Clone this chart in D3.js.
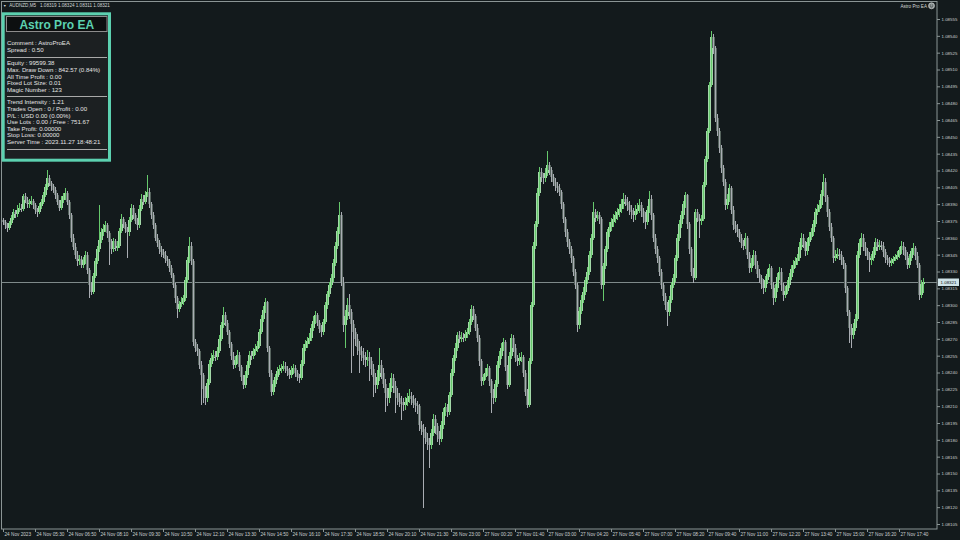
<!DOCTYPE html>
<html><head><meta charset="utf-8">
<script src="https://cdn.jsdelivr.net/npm/d3@7"></script>
<style>html,body{margin:0;padding:0;background:#131a1c;}svg{display:block;}</style>
</head><body>
<svg id="c" width="960" height="540"></svg>
<script>
const symbolName = "AUDNZD,M5";
const headerQuote = ["1.08319", "1.08324", "1.08311", "1.08321"];
const expertName = "Astro Pro EA";
const currentPrice = 1.08321;
const barsPerLabel = 16;
const timeLabels = ["24 Nov 2023","24 Nov 05:30","24 Nov 06:50","24 Nov 08:10","24 Nov 09:30","24 Nov 10:50","24 Nov 12:10","24 Nov 13:30","24 Nov 14:50","24 Nov 16:10","24 Nov 17:30","24 Nov 18:50","24 Nov 20:10","24 Nov 21:30","26 Nov 23:00","27 Nov 00:20","27 Nov 01:40","27 Nov 03:00","27 Nov 04:20","27 Nov 05:40","27 Nov 07:00","27 Nov 08:20","27 Nov 09:40","27 Nov 11:00","27 Nov 12:20","27 Nov 13:40","27 Nov 15:00","27 Nov 16:20","27 Nov 17:40"];
const priceTicks = [1.08105,1.08120,1.08135,1.08150,1.08165,1.08180,1.08195,1.08210,1.08225,1.08240,1.08255,1.08270,1.08285,1.08300,1.08315,1.08330,1.08345,1.08360,1.08375,1.08390,1.08405,1.08420,1.08435,1.08450,1.08465,1.08480,1.08495,1.08510,1.08525,1.08540,1.08555];

const panelTitle = "Astro Pro EA";
const panelGroups = [
  ["Comment : AstroProEA", "Spread : 0.50"],
  ["Equity : 99599.38", "Max. Draw Down : 842.57 (0.84%)", "All Time Profit : 0.00", "Fixed Lot Size: 0.01", "Magic Number : 123"],
  ["Trend Intensity : 1.21", "Trades Open : 0 / Profit : 0.00", "P/L : USD 0.00 (0.00%)", "Use Lots : 0.00 / Free : 751.67", "Take Profit: 0.00000", "Stop Loss: 0.00000", "Server Time : 2023.11.27 18:48:21"]
];

const opens = [
1.08376,1.08374,1.08371,1.08369,1.08373,1.08378,1.08383,1.08381,1.08385,1.08387,
1.08386,1.08397,1.08394,1.08390,1.08391,1.08393,1.08389,1.08385,1.08383,1.08388,
1.08392,1.08398,1.08405,1.08413,1.08409,1.08406,1.08403,1.08398,1.08392,1.08387,
1.08394,1.08397,1.08400,1.08392,1.08380,1.08360,1.08352,1.08345,1.08339,1.08341,
1.08336,1.08340,1.08345,1.08331,1.08318,1.08312,1.08326,1.08339,1.08350,1.08358,
1.08365,1.08368,1.08371,1.08364,1.08356,1.08350,1.08357,1.08351,1.08353,1.08366,
1.08377,1.08372,1.08368,1.08365,1.08376,1.08387,1.08380,1.08375,1.08371,1.08386,
1.08395,1.08392,1.08398,1.08401,1.08390,1.08380,1.08371,1.08360,1.08355,1.08350,
1.08347,1.08345,1.08341,1.08339,1.08333,1.08327,1.08318,1.08306,1.08297,1.08301,
1.08303,1.08306,1.08322,1.08340,1.08353,1.08339,1.08267,1.08262,1.08259,1.08247,
1.08238,1.08225,1.08217,1.08231,1.08248,1.08253,1.08256,1.08254,1.08259,1.08270,
1.08282,1.08291,1.08284,1.08276,1.08265,1.08255,1.08247,1.08251,1.08256,1.08245,
1.08236,1.08229,1.08238,1.08247,1.08256,1.08255,1.08259,1.08261,1.08264,1.08276,
1.08288,1.08296,1.08303,1.08262,1.08240,1.08223,1.08230,1.08236,1.08241,1.08243,
1.08244,1.08246,1.08243,1.08241,1.08238,1.08242,1.08244,1.08240,1.08236,1.08235,
1.08248,1.08262,1.08265,1.08268,1.08271,1.08280,1.08286,1.08291,1.08284,1.08279,
1.08276,1.08285,1.08300,1.08310,1.08318,1.08324,1.08338,1.08353,1.08366,1.08380,
1.08321,1.08282,1.08290,1.08300,1.08294,1.08283,1.08276,1.08270,1.08263,1.08259,
1.08256,1.08253,1.08251,1.08254,1.08250,1.08243,1.08236,1.08229,1.08236,1.08247,
1.08240,1.08230,1.08222,1.08217,1.08226,1.08235,1.08228,1.08222,1.08217,1.08214,
1.08212,1.08211,1.08214,1.08217,1.08219,1.08216,1.08213,1.08211,1.08210,1.08193,
1.08190,1.08187,1.08182,1.08178,1.08175,1.08186,1.08199,1.08192,1.08184,1.08181,
1.08193,1.08205,1.08209,1.08205,1.08220,1.08240,1.08253,1.08262,1.08273,1.08270,
1.08272,1.08271,1.08274,1.08276,1.08285,1.08297,1.08290,1.08280,1.08271,1.08250,
1.08232,1.08236,1.08240,1.08244,1.08232,1.08222,1.08217,1.08230,1.08247,1.08255,
1.08262,1.08267,1.08245,1.08229,1.08255,1.08271,1.08262,1.08253,1.08250,1.08253,
1.08254,1.08240,1.08223,1.08211,1.08250,1.08300,1.08353,1.08372,1.08400,1.08419,
1.08414,1.08413,1.08418,1.08425,1.08420,1.08414,1.08410,1.08406,1.08404,1.08401,
1.08390,1.08377,1.08365,1.08356,1.08350,1.08342,1.08330,1.08318,1.08282,1.08295,
1.08305,1.08312,1.08322,1.08330,1.08345,1.08360,1.08383,1.08378,1.08380,1.08377,
1.08318,1.08335,1.08350,1.08365,1.08370,1.08374,1.08377,1.08380,1.08383,1.08386,
1.08390,1.08395,1.08392,1.08389,1.08385,1.08383,1.08380,1.08384,1.08386,1.08389,
1.08384,1.08379,1.08374,1.08385,1.08395,1.08380,1.08360,1.08350,1.08342,1.08330,
1.08318,1.08308,1.08300,1.08294,1.08305,1.08318,1.08324,1.08342,1.08360,1.08372,
1.08380,1.08390,1.08398,1.08372,1.08350,1.08330,1.08324,1.08383,1.08378,1.08375,
1.08377,1.08407,1.08430,1.08455,1.08496,1.08539,1.08529,1.08467,1.08455,1.08440,
1.08422,1.08410,1.08389,1.08395,1.08404,1.08385,1.08371,1.08368,1.08365,1.08360,
1.08355,1.08353,1.08360,1.08345,1.08333,1.08338,1.08345,1.08336,1.08328,1.08324,
1.08319,1.08315,1.08322,1.08328,1.08333,1.08318,1.08306,1.08315,1.08325,1.08330,
1.08318,1.08309,1.08313,1.08318,1.08325,1.08332,1.08336,1.08339,1.08342,1.08352,
1.08360,1.08354,1.08348,1.08356,1.08361,1.08365,1.08372,1.08383,1.08386,1.08389,
1.08399,1.08410,1.08396,1.08383,1.08370,1.08360,1.08342,1.08344,1.08346,1.08345,
1.08340,1.08336,1.08315,1.08294,1.08280,1.08273,1.08280,1.08288,1.08345,1.08355,
1.08360,1.08352,1.08348,1.08344,1.08340,1.08342,1.08348,1.08356,1.08352,1.08354,
1.08353,1.08347,1.08342,1.08340,1.08338,1.08339,1.08341,1.08343,1.08345,1.08349,
1.08353,1.08349,1.08344,1.08336,1.08342,1.08348,1.08351,1.08344,1.08336,1.08309,
1.08319];

const highs = [
1.08378,1.08376,1.08373,1.08375,1.08380,1.08386,1.08385,1.08389,1.08391,1.08390,
1.08399,1.08400,1.08396,1.08395,1.08397,1.08395,1.08391,1.08387,1.08391,1.08395,
1.08401,1.08408,1.08420,1.08416,1.08411,1.08408,1.08405,1.08400,1.08394,1.08397,
1.08400,1.08404,1.08402,1.08394,1.08382,1.08363,1.08355,1.08348,1.08345,1.08344,
1.08343,1.08348,1.08347,1.08333,1.08321,1.08329,1.08342,1.08353,1.08389,1.08369,
1.08372,1.08375,1.08373,1.08366,1.08359,1.08360,1.08359,1.08357,1.08369,1.08381,
1.08379,1.08374,1.08370,1.08379,1.08390,1.08389,1.08382,1.08378,1.08389,1.08399,
1.08398,1.08402,1.08416,1.08404,1.08392,1.08383,1.08373,1.08363,1.08358,1.08353,
1.08350,1.08348,1.08344,1.08341,1.08336,1.08329,1.08320,1.08308,1.08304,1.08307,
1.08309,1.08325,1.08343,1.08361,1.08356,1.08341,1.08270,1.08265,1.08261,1.08250,
1.08240,1.08228,1.08234,1.08251,1.08257,1.08260,1.08259,1.08263,1.08273,1.08285,
1.08298,1.08294,1.08287,1.08278,1.08267,1.08258,1.08255,1.08260,1.08258,1.08247,
1.08238,1.08241,1.08250,1.08259,1.08259,1.08262,1.08265,1.08268,1.08279,1.08291,
1.08299,1.08306,1.08304,1.08264,1.08242,1.08233,1.08239,1.08245,1.08247,1.08248,
1.08250,1.08249,1.08246,1.08244,1.08246,1.08248,1.08247,1.08242,1.08239,1.08251,
1.08265,1.08269,1.08272,1.08275,1.08283,1.08290,1.08295,1.08293,1.08287,1.08282,
1.08288,1.08303,1.08313,1.08321,1.08328,1.08341,1.08356,1.08370,1.08392,1.08383,
1.08325,1.08296,1.08306,1.08310,1.08297,1.08287,1.08280,1.08274,1.08268,1.08264,
1.08262,1.08258,1.08260,1.08258,1.08254,1.08248,1.08240,1.08242,1.08262,1.08251,
1.08244,1.08234,1.08226,1.08231,1.08240,1.08239,1.08232,1.08226,1.08222,1.08219,
1.08217,1.08218,1.08222,1.08225,1.08223,1.08220,1.08217,1.08215,1.08212,1.08197,
1.08194,1.08191,1.08186,1.08182,1.08190,1.08203,1.08202,1.08195,1.08188,1.08197,
1.08208,1.08213,1.08212,1.08223,1.08243,1.08256,1.08266,1.08276,1.08277,1.08276,
1.08275,1.08278,1.08280,1.08288,1.08300,1.08299,1.08292,1.08283,1.08273,1.08252,
1.08239,1.08244,1.08248,1.08246,1.08234,1.08225,1.08233,1.08250,1.08259,1.08266,
1.08271,1.08269,1.08247,1.08258,1.08274,1.08273,1.08265,1.08256,1.08257,1.08258,
1.08256,1.08242,1.08225,1.08253,1.08303,1.08356,1.08375,1.08404,1.08423,1.08422,
1.08418,1.08422,1.08437,1.08428,1.08423,1.08417,1.08413,1.08410,1.08408,1.08403,
1.08392,1.08379,1.08368,1.08359,1.08353,1.08344,1.08332,1.08320,1.08298,1.08309,
1.08316,1.08325,1.08334,1.08348,1.08363,1.08392,1.08386,1.08384,1.08383,1.08379,
1.08338,1.08353,1.08368,1.08374,1.08378,1.08381,1.08384,1.08387,1.08390,1.08395,
1.08400,1.08398,1.08396,1.08393,1.08389,1.08387,1.08389,1.08391,1.08395,1.08392,
1.08387,1.08383,1.08388,1.08402,1.08398,1.08382,1.08363,1.08353,1.08344,1.08332,
1.08320,1.08311,1.08303,1.08308,1.08321,1.08328,1.08345,1.08363,1.08376,1.08384,
1.08393,1.08401,1.08399,1.08374,1.08352,1.08333,1.08386,1.08386,1.08381,1.08380,
1.08410,1.08433,1.08458,1.08499,1.08544,1.08542,1.08531,1.08470,1.08458,1.08443,
1.08425,1.08412,1.08399,1.08408,1.08406,1.08388,1.08375,1.08372,1.08368,1.08363,
1.08358,1.08364,1.08362,1.08347,1.08342,1.08349,1.08348,1.08339,1.08332,1.08327,
1.08323,1.08326,1.08332,1.08337,1.08335,1.08321,1.08319,1.08329,1.08334,1.08333,
1.08320,1.08317,1.08322,1.08329,1.08336,1.08340,1.08343,1.08346,1.08356,1.08364,
1.08363,1.08357,1.08360,1.08365,1.08369,1.08376,1.08387,1.08390,1.08394,1.08403,
1.08417,1.08413,1.08398,1.08386,1.08373,1.08362,1.08349,1.08351,1.08350,1.08348,
1.08343,1.08338,1.08317,1.08296,1.08283,1.08284,1.08292,1.08348,1.08359,1.08364,
1.08363,1.08356,1.08351,1.08347,1.08346,1.08352,1.08360,1.08359,1.08358,1.08357,
1.08356,1.08350,1.08345,1.08343,1.08342,1.08344,1.08346,1.08348,1.08352,1.08357,
1.08356,1.08352,1.08347,1.08346,1.08351,1.08355,1.08353,1.08347,1.08338,1.08322,
1.08324];

const lows = [
1.08371,1.08368,1.08365,1.08367,1.08371,1.08376,1.08378,1.08379,1.08383,1.08383,
1.08384,1.08391,1.08387,1.08387,1.08389,1.08386,1.08381,1.08379,1.08381,1.08386,
1.08390,1.08396,1.08403,1.08406,1.08402,1.08400,1.08395,1.08389,1.08384,1.08385,
1.08391,1.08394,1.08389,1.08377,1.08356,1.08349,1.08341,1.08335,1.08336,1.08333,
1.08333,1.08337,1.08328,1.08306,1.08309,1.08310,1.08324,1.08337,1.08347,1.08355,
1.08362,1.08365,1.08360,1.08336,1.08346,1.08347,1.08348,1.08348,1.08351,1.08364,
1.08369,1.08364,1.08342,1.08362,1.08374,1.08377,1.08372,1.08367,1.08369,1.08384,
1.08389,1.08390,1.08396,1.08387,1.08377,1.08368,1.08357,1.08352,1.08346,1.08343,
1.08342,1.08338,1.08335,1.08330,1.08324,1.08315,1.08302,1.08289,1.08294,1.08298,
1.08300,1.08304,1.08320,1.08338,1.08336,1.08264,1.08258,1.08255,1.08243,1.08211,
1.08213,1.08211,1.08214,1.08229,1.08245,1.08250,1.08250,1.08251,1.08257,1.08268,
1.08280,1.08281,1.08273,1.08262,1.08251,1.08243,1.08244,1.08248,1.08241,1.08232,
1.08225,1.08226,1.08235,1.08244,1.08251,1.08252,1.08256,1.08258,1.08262,1.08274,
1.08285,1.08293,1.08258,1.08236,1.08219,1.08220,1.08227,1.08233,1.08238,1.08240,
1.08241,1.08240,1.08237,1.08234,1.08235,1.08239,1.08236,1.08232,1.08231,1.08233,
1.08246,1.08259,1.08262,1.08265,1.08268,1.08277,1.08283,1.08281,1.08275,1.08272,
1.08273,1.08283,1.08297,1.08307,1.08315,1.08321,1.08335,1.08350,1.08363,1.08317,
1.08276,1.08262,1.08287,1.08288,1.08240,1.08255,1.08264,1.08256,1.08240,1.08250,
1.08247,1.08245,1.08246,1.08232,1.08238,1.08218,1.08222,1.08225,1.08232,1.08234,
1.08226,1.08205,1.08210,1.08213,1.08223,1.08222,1.08204,1.08211,1.08209,1.08198,
1.08206,1.08207,1.08210,1.08213,1.08211,1.08208,1.08205,1.08203,1.08188,1.08184,
1.08119,1.08176,1.08171,1.08155,1.08172,1.08183,1.08185,1.08178,1.08175,1.08178,
1.08190,1.08201,1.08200,1.08202,1.08218,1.08237,1.08250,1.08259,1.08266,1.08267,
1.08267,1.08268,1.08271,1.08273,1.08282,1.08287,1.08277,1.08267,1.08246,1.08228,
1.08229,1.08233,1.08237,1.08228,1.08204,1.08212,1.08214,1.08227,1.08244,1.08252,
1.08259,1.08241,1.08225,1.08227,1.08252,1.08258,1.08249,1.08246,1.08247,1.08249,
1.08236,1.08219,1.08208,1.08209,1.08248,1.08298,1.08350,1.08370,1.08397,1.08410,
1.08408,1.08410,1.08415,1.08416,1.08410,1.08406,1.08402,1.08400,1.08397,1.08386,
1.08373,1.08361,1.08352,1.08346,1.08338,1.08326,1.08314,1.08276,1.08279,1.08292,
1.08302,1.08309,1.08319,1.08327,1.08342,1.08358,1.08374,1.08375,1.08372,1.08314,
1.08304,1.08332,1.08347,1.08361,1.08366,1.08370,1.08373,1.08376,1.08379,1.08382,
1.08386,1.08388,1.08384,1.08380,1.08377,1.08374,1.08376,1.08381,1.08382,1.08379,
1.08373,1.08368,1.08371,1.08382,1.08376,1.08356,1.08346,1.08338,1.08326,1.08314,
1.08304,1.08296,1.08281,1.08290,1.08302,1.08315,1.08321,1.08339,1.08357,1.08369,
1.08377,1.08387,1.08368,1.08346,1.08326,1.08320,1.08322,1.08374,1.08360,1.08371,
1.08375,1.08405,1.08428,1.08453,1.08494,1.08524,1.08463,1.08451,1.08436,1.08418,
1.08406,1.08385,1.08386,1.08392,1.08381,1.08367,1.08364,1.08361,1.08356,1.08351,
1.08349,1.08350,1.08341,1.08329,1.08330,1.08335,1.08332,1.08324,1.08320,1.08314,
1.08310,1.08312,1.08319,1.08325,1.08314,1.08300,1.08303,1.08312,1.08322,1.08313,
1.08304,1.08306,1.08310,1.08315,1.08322,1.08329,1.08333,1.08336,1.08339,1.08349,
1.08351,1.08344,1.08345,1.08353,1.08358,1.08362,1.08370,1.08380,1.08383,1.08387,
1.08397,1.08392,1.08379,1.08366,1.08356,1.08338,1.08339,1.08341,1.08340,1.08336,
1.08332,1.08311,1.08290,1.08266,1.08262,1.08270,1.08277,1.08286,1.08342,1.08352,
1.08348,1.08344,1.08340,1.08330,1.08336,1.08339,1.08345,1.08348,1.08349,1.08349,
1.08343,1.08338,1.08336,1.08334,1.08335,1.08337,1.08339,1.08340,1.08342,1.08346,
1.08345,1.08340,1.08332,1.08333,1.08339,1.08345,1.08340,1.08333,1.08305,1.08306,
1.08311];

const closes = [
1.08374,1.08371,1.08369,1.08373,1.08378,1.08383,1.08381,1.08385,1.08387,1.08386,
1.08397,1.08394,1.08390,1.08391,1.08393,1.08389,1.08385,1.08383,1.08388,1.08392,
1.08398,1.08405,1.08413,1.08409,1.08406,1.08403,1.08398,1.08392,1.08387,1.08394,
1.08397,1.08400,1.08392,1.08380,1.08360,1.08352,1.08345,1.08339,1.08341,1.08336,
1.08340,1.08345,1.08331,1.08318,1.08312,1.08326,1.08339,1.08350,1.08358,1.08365,
1.08368,1.08371,1.08364,1.08356,1.08350,1.08357,1.08351,1.08353,1.08366,1.08377,
1.08372,1.08368,1.08365,1.08376,1.08387,1.08380,1.08375,1.08371,1.08386,1.08395,
1.08392,1.08398,1.08401,1.08390,1.08380,1.08371,1.08360,1.08355,1.08350,1.08347,
1.08345,1.08341,1.08339,1.08333,1.08327,1.08318,1.08306,1.08297,1.08301,1.08303,
1.08306,1.08322,1.08340,1.08353,1.08339,1.08267,1.08262,1.08259,1.08247,1.08238,
1.08225,1.08217,1.08231,1.08248,1.08253,1.08256,1.08254,1.08259,1.08270,1.08282,
1.08291,1.08284,1.08276,1.08265,1.08255,1.08247,1.08251,1.08256,1.08245,1.08236,
1.08229,1.08238,1.08247,1.08256,1.08255,1.08259,1.08261,1.08264,1.08276,1.08288,
1.08296,1.08303,1.08262,1.08240,1.08223,1.08230,1.08236,1.08241,1.08243,1.08244,
1.08246,1.08243,1.08241,1.08238,1.08242,1.08244,1.08240,1.08236,1.08235,1.08248,
1.08262,1.08265,1.08268,1.08271,1.08280,1.08286,1.08291,1.08284,1.08279,1.08276,
1.08285,1.08300,1.08310,1.08318,1.08324,1.08338,1.08353,1.08366,1.08380,1.08321,
1.08282,1.08290,1.08300,1.08294,1.08283,1.08276,1.08270,1.08263,1.08259,1.08256,
1.08253,1.08251,1.08254,1.08250,1.08243,1.08236,1.08229,1.08236,1.08247,1.08240,
1.08230,1.08222,1.08217,1.08226,1.08235,1.08228,1.08222,1.08217,1.08214,1.08212,
1.08211,1.08214,1.08217,1.08219,1.08216,1.08213,1.08211,1.08210,1.08193,1.08190,
1.08187,1.08182,1.08178,1.08175,1.08186,1.08199,1.08192,1.08184,1.08181,1.08193,
1.08205,1.08209,1.08205,1.08220,1.08240,1.08253,1.08262,1.08273,1.08270,1.08272,
1.08271,1.08274,1.08276,1.08285,1.08297,1.08290,1.08280,1.08271,1.08250,1.08232,
1.08236,1.08240,1.08244,1.08232,1.08222,1.08217,1.08230,1.08247,1.08255,1.08262,
1.08267,1.08245,1.08229,1.08255,1.08271,1.08262,1.08253,1.08250,1.08253,1.08254,
1.08240,1.08223,1.08211,1.08250,1.08300,1.08353,1.08372,1.08400,1.08419,1.08414,
1.08413,1.08418,1.08425,1.08420,1.08414,1.08410,1.08406,1.08404,1.08401,1.08390,
1.08377,1.08365,1.08356,1.08350,1.08342,1.08330,1.08318,1.08282,1.08295,1.08305,
1.08312,1.08322,1.08330,1.08345,1.08360,1.08383,1.08378,1.08380,1.08377,1.08318,
1.08335,1.08350,1.08365,1.08370,1.08374,1.08377,1.08380,1.08383,1.08386,1.08390,
1.08395,1.08392,1.08389,1.08385,1.08383,1.08380,1.08384,1.08386,1.08389,1.08384,
1.08379,1.08374,1.08385,1.08395,1.08380,1.08360,1.08350,1.08342,1.08330,1.08318,
1.08308,1.08300,1.08294,1.08305,1.08318,1.08324,1.08342,1.08360,1.08372,1.08380,
1.08390,1.08398,1.08372,1.08350,1.08330,1.08324,1.08383,1.08378,1.08375,1.08377,
1.08407,1.08430,1.08455,1.08496,1.08539,1.08529,1.08467,1.08455,1.08440,1.08422,
1.08410,1.08389,1.08395,1.08404,1.08385,1.08371,1.08368,1.08365,1.08360,1.08355,
1.08353,1.08360,1.08345,1.08333,1.08338,1.08345,1.08336,1.08328,1.08324,1.08319,
1.08315,1.08322,1.08328,1.08333,1.08318,1.08306,1.08315,1.08325,1.08330,1.08318,
1.08309,1.08313,1.08318,1.08325,1.08332,1.08336,1.08339,1.08342,1.08352,1.08360,
1.08354,1.08348,1.08356,1.08361,1.08365,1.08372,1.08383,1.08386,1.08389,1.08399,
1.08410,1.08396,1.08383,1.08370,1.08360,1.08342,1.08344,1.08346,1.08345,1.08340,
1.08336,1.08315,1.08294,1.08280,1.08273,1.08280,1.08288,1.08345,1.08355,1.08360,
1.08352,1.08348,1.08344,1.08340,1.08342,1.08348,1.08356,1.08352,1.08354,1.08353,
1.08347,1.08342,1.08340,1.08338,1.08339,1.08341,1.08343,1.08345,1.08349,1.08353,
1.08349,1.08344,1.08336,1.08342,1.08348,1.08351,1.08344,1.08336,1.08309,1.08319,
1.08321];

// ---------- drawing ----------
const C = {
  bg: "#131a1c", frame: "#8b9595", axisText: "#c9cfcf",
  bullLine: "#66c96c", bullFill: "#a3d8a8",
  bearLine: "#a9adb3", bearFill: "#56645e",
  priceLine: "#7f8a8a", teal: "#5cd1b0"
};
const FONT = "'Liberation Sans', Arial, sans-serif";
const svg = d3.select("#c");
svg.append("rect").attr("width", 960).attr("height", 540).attr("fill", C.bg);

const plotL = 1.5, plotT = 1.5, plotR = 937, plotB = 529;
const x = d3.scaleLinear().domain([0, closes.length - 1]).range([3, 923]);
const y = d3.scaleLinear().domain([priceTicks[0], priceTicks[priceTicks.length - 1]]).range([524, 19]);

const bars = closes.map((c, i) => {
  const o = opens[i];
  return {i, o, h: highs[i], l: lows[i], c, up: c >= o,
    cx: Math.round(x(i)),
    top: Math.round(y(Math.max(o, c))), bot: Math.round(y(Math.min(o, c))),
    yh: Math.round(y(highs[i])), yl: Math.round(y(lows[i]))};
});

// current price line
const cy = Math.round(y(currentPrice)) + 0.5;
svg.append("line").attr("x1", plotL).attr("x2", plotR).attr("y1", cy).attr("y2", cy)
  .attr("stroke", C.priceLine).attr("stroke-width", 1);

// candles: bodies first, then outlines/wicks
const g = svg.append("g").attr("shape-rendering", "crispEdges");
g.selectAll("rect.body").data(bars).join("rect").attr("class", "body")
  .attr("x", b => b.cx - 1).attr("width", 3)
  .attr("y", b => b.top).attr("height", b => Math.max(1, b.bot - b.top))
  .attr("fill", b => b.up ? C.bullFill : C.bearFill);
g.selectAll("rect.wick").data(bars).join("rect").attr("class", "wick")
  .attr("x", b => b.cx).attr("width", 1)
  .attr("y", b => b.yh).attr("height", b => Math.max(1, b.yl - b.yh))
  .attr("fill", b => b.up ? C.bullLine : C.bearLine);

// frame
svg.append("rect").attr("x", plotL).attr("y", plotT).attr("width", plotR - plotL).attr("height", plotB - plotT)
  .attr("fill", "none").attr("stroke", C.frame).attr("stroke-width", 1);

// y axis
const yAxis = svg.append("g").attr("transform", `translate(${plotR},0)`)
  .call(d3.axisRight(y).tickValues(priceTicks).tickSize(3).tickFormat(d => d.toFixed(5)));
yAxis.select(".domain").remove();
yAxis.selectAll("line").attr("stroke", C.frame);
yAxis.selectAll("text").attr("x", 4.5).attr("fill", C.axisText)
  .style("font-family", FONT).style("font-size", "4.4px");

// current price label
svg.append("rect").attr("x", 938).attr("y", cy - 4).attr("width", 21).attr("height", 7.5).attr("fill", "#cfe3e8");
svg.append("text").attr("x", 948.5).attr("y", cy + 1.6).attr("text-anchor", "middle")
  .attr("fill", "#111").style("font-family", FONT).style("font-size", "4.4px").text(currentPrice.toFixed(5));

// x axis
const xt = timeLabels.map((t, k) => k * barsPerLabel);
const xAxis = svg.append("g").attr("transform", `translate(0,${plotB})`)
  .call(d3.axisBottom(x).tickValues(xt).tickSize(3).tickFormat((d, k) => timeLabels[k]));
xAxis.select(".domain").remove();
xAxis.selectAll("line").attr("stroke", C.frame);
xAxis.selectAll("text").attr("text-anchor", "start").attr("x", 1).attr("y", 3.6).attr("fill", C.axisText)
  .style("font-family", FONT).style("font-size", "4.7px");

// header
const hdr = svg.append("g").style("font-family", FONT).style("font-size", "4.6px").attr("fill", "#d2d6d6");
hdr.append("text").attr("x", 3).attr("y", 7).style("font-size", "3.6px").text("\u25BC");
hdr.append("text").attr("x", 9.3).attr("y", 7).text(symbolName);
hdr.append("text").attr("x", 40).attr("y", 7).text(headerQuote.join(" "));
hdr.append("text").attr("x", 927).attr("y", 7.5).attr("text-anchor", "end").text(expertName);
const face = svg.append("g").attr("transform", "translate(931.5,5.8)");
face.append("circle").attr("r", 3).attr("fill", "#8f9898").attr("stroke", "#d8dcdc").attr("stroke-width", 0.6);
face.append("circle").attr("cx", -1).attr("cy", -0.8).attr("r", 0.45).attr("fill", "#1a1f20");
face.append("circle").attr("cx", 1).attr("cy", -0.8).attr("r", 0.45).attr("fill", "#1a1f20");
face.append("path").attr("d", "M-1.4,0.6 Q0,2 1.4,0.6").attr("fill", "none").attr("stroke", "#1a1f20").attr("stroke-width", 0.5);

// info panel
const panel = svg.append("g");
panel.append("rect").attr("x", 3.2).attr("y", 13.8).attr("width", 106.3).attr("height", 146.4)
  .attr("fill", "#1c2022").attr("stroke", C.teal).attr("stroke-width", 3);
panel.append("rect").attr("x", 6.5).attr("y", 16.5).attr("width", 100.5).attr("height", 15)
  .attr("fill", "#0d0f10").attr("stroke", "#8c8c8c").attr("stroke-width", 1);
panel.append("text").attr("x", 56.8).attr("y", 28.6).attr("text-anchor", "middle")
  .attr("fill", C.teal).style("font-family", FONT).style("font-weight", "bold").style("font-size", "12px")
  .text(panelTitle);
let yc = 43;
panelGroups.forEach(group => {
  group.forEach((line, j) => {
    panel.append("text").attr("x", 7).attr("y", yc + 2.2).attr("fill", "#e4e4e4")
      .style("font-family", FONT).style("font-size", "6.1px").text(line);
    if (j < group.length - 1) yc += 6.6;
  });
  const sy = Math.round(yc + 7) + 0.5;
  panel.append("line").attr("x1", 7).attr("x2", 107).attr("y1", sy).attr("y2", sy)
    .attr("stroke", "#a9a9a9").attr("stroke-width", 1);
  yc = sy + 5.6;
});
</script>
</body></html>
